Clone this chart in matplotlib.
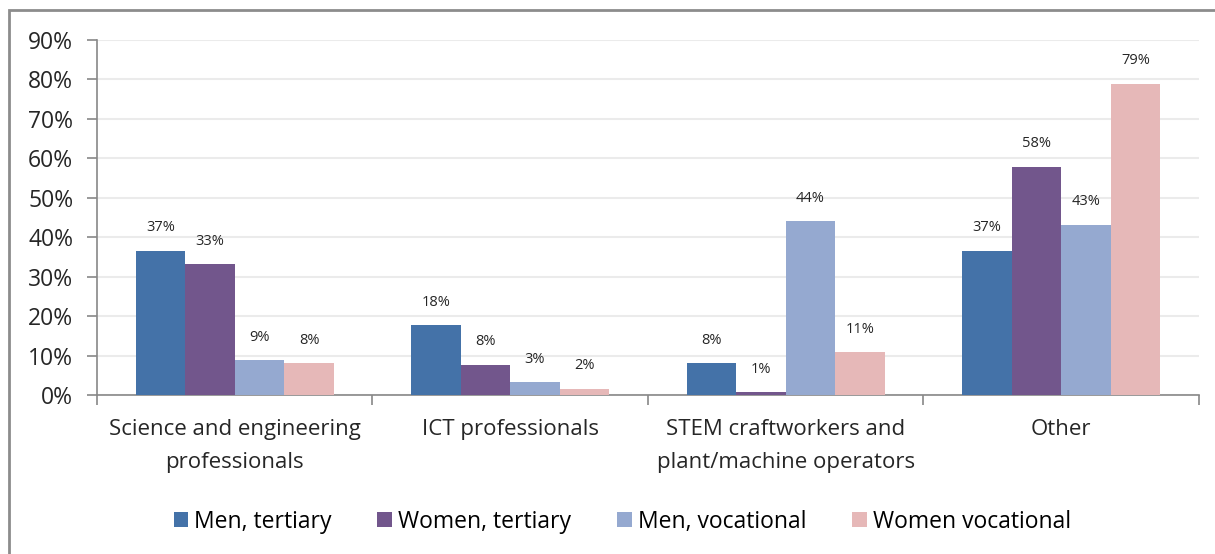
import numpy as np
import matplotlib
matplotlib.use("Agg")
import matplotlib.pyplot as plt
from matplotlib.patches import Rectangle

plt.rcParams['font.family'] = ['Open Sans', 'DejaVu Sans']

categories = ['Science and engineering\nprofessionals', 'ICT professionals',
              'STEM craftworkers and\nplant/machine operators', 'Other']
series_names = ['Men, tertiary', 'Women, tertiary', 'Men, vocational', 'Women vocational']
men_tertiary = [36.6, 17.7, 8.0, 36.6]
women_tertiary = [33.2, 7.7, 0.7, 57.9]
men_vocational = [8.8, 3.2, 44.0, 43.2]
women_vocational = [8.0, 1.6, 10.8, 78.9]
colors = ['#4472A8', '#72568C', '#95A9D0', '#E6B8B8']

all_series = [men_tertiary, women_tertiary, men_vocational, women_vocational]

fig = plt.figure(figsize=(12.15, 5.54), dpi=100)
ax = fig.add_axes([0.0798, 0.287, 0.9070, 0.641])

x = np.arange(len(categories))
width = 0.18
for i, (vals, name, col) in enumerate(zip(all_series, series_names, colors)):
    pos = x + (i - 1.5) * width
    bars = ax.bar(pos, vals, width, color=col, label=name, zorder=3)
    for b, v in zip(bars, vals):
        ax.annotate(f"{v:.0f}%", (b.get_x() + b.get_width() / 2, v),
                    xytext=(0, 11), textcoords='offset points',
                    ha='center', va='bottom', fontsize=10.5, color='#262626')

ax.set_xlim(-0.5, 3.5)
ax.set_ylim(0, 90)
ax.set_yticks(range(0, 91, 10))
ax.set_yticklabels([f"{t}%" for t in range(0, 91, 10)], fontsize=16.5, color='#262626')
ax.set_xticks(x)
ax.set_xticklabels(categories, fontsize=16, color='#262626', linespacing=1.75)
ax.set_xticks(np.arange(-0.5, 3.6, 1), minor=True)
ax.tick_params(axis='x', which='major', length=0, pad=17)
ax.tick_params(axis='x', which='minor', length=7, color='#888888', width=1.2)
ax.tick_params(axis='y', length=7, color='#888888', width=1.2, pad=10)
ax.grid(axis='y', color='#EBEBEB', linewidth=1.5, zorder=0)
for s in ['top', 'right']:
    ax.spines[s].set_visible(False)
for s in ['left', 'bottom']:
    ax.spines[s].set_color('#888888')
    ax.spines[s].set_linewidth(1.2)

fig.legend(loc='center', bbox_to_anchor=(0.512, 0.058), ncol=4, frameon=False,
           fontsize=16.5, handlelength=0.65, handleheight=0.65, handletextpad=0.25,
           columnspacing=2.0)

# outer chart border (clipped at right/bottom)
fig.patches.append(Rectangle((9 / 1215, -0.1), 1.2, (1 - 10 / 554) + 0.1,
                             transform=fig.transFigure, fill=False,
                             edgecolor='#8C8C8C', linewidth=2))

fig.savefig('out.png', dpi=100)
